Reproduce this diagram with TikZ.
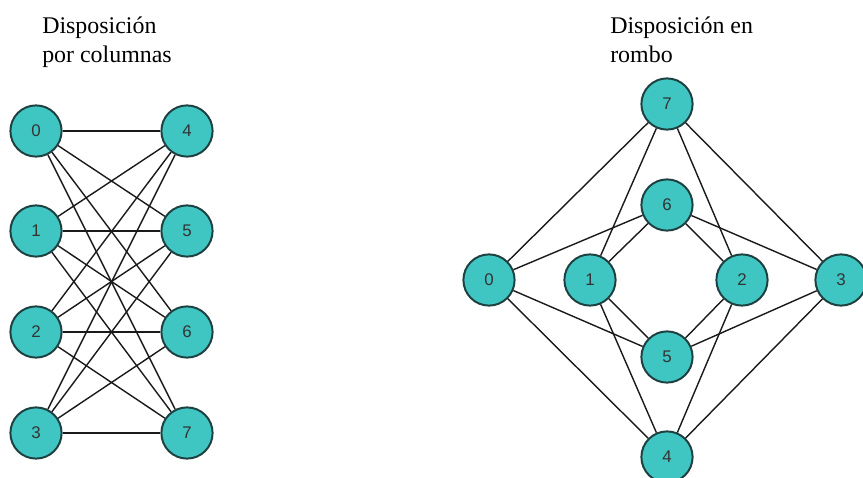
\documentclass[tikz,border=0pt]{standalone}
\usepackage{fontspec}
\setmainfont{Liberation Serif}
\newfontfamily\numfont{Liberation Sans}
\definecolor{nodefill}{HTML}{3FC6C3}
\definecolor{nodeline}{HTML}{1E4040}
\definecolor{edgeline}{HTML}{1A1A1A}

\begin{document}
\begin{tikzpicture}[x=0.025cm,y=-0.025cm]
    \useasboundingbox (0,0) rectangle (863,478);
    \begin{scope}[every node/.style={anchor=base west,align=left,inner sep=0,
        font=\fontsize{17}{21.3}\selectfont}]
        \node (tcol) at (42,63) {Disposición\\por columnas};
        \node (trom) at (610,63) {Disposición en\\rombo};
    \end{scope}
    \begin{scope}[every node/.style={circle,draw=nodeline,line width=1.4pt,
        fill=nodefill,minimum size=1.28cm,inner sep=0,text=black!80,
        font=\numfont\fontsize{12}{14}\selectfont}]
        % por columnas
        \node (c0) at (36,131) {0};
        \node (c1) at (36,231) {1};
        \node (c2) at (36,332) {2};
        \node (c3) at (36,433) {3};
        \node (c4) at (187,131) {4};
        \node (c5) at (187,231) {5};
        \node (c6) at (187,332) {6};
        \node (c7) at (187,433) {7};
        % rombo
        \node (r0) at (489,280) {0};
        \node (r1) at (590,280) {1};
        \node (r2) at (742,280) {2};
        \node (r3) at (841,280) {3};
        \node (r4) at (667,457) {4};
        \node (r5) at (667,357) {5};
        \node (r6) at (667,205) {6};
        \node (r7) at (667,104) {7};
    \end{scope}
    \begin{scope}[every edge/.style={draw=edgeline,line width=1pt}]
        \path [-] (c0) edge (c4);
        \path [-] (c0) edge (c5);
        \path [-] (c0) edge (c6);
        \path [-] (c0) edge (c7);
        \path [-] (c1) edge (c4);
        \path [-] (c1) edge (c5);
        \path [-] (c1) edge (c6);
        \path [-] (c1) edge (c7);
        \path [-] (c2) edge (c4);
        \path [-] (c2) edge (c5);
        \path [-] (c2) edge (c6);
        \path [-] (c2) edge (c7);
        \path [-] (c3) edge (c4);
        \path [-] (c3) edge (c5);
        \path [-] (c3) edge (c6);
        \path [-] (c3) edge (c7);

        \path [-] (r0) edge (r4);
        \path [-] (r0) edge (r5);
        \path [-] (r0) edge (r6);
        \path [-] (r0) edge (r7);
        \path [-] (r1) edge (r4);
        \path [-] (r1) edge (r5);
        \path [-] (r1) edge (r6);
        \path [-] (r1) edge (r7);
        \path [-] (r2) edge (r4);
        \path [-] (r2) edge (r5);
        \path [-] (r2) edge (r6);
        \path [-] (r2) edge (r7);
        \path [-] (r3) edge (r4);
        \path [-] (r3) edge (r5);
        \path [-] (r3) edge (r6);
        \path [-] (r3) edge (r7);
    \end{scope}
\end{tikzpicture}
\end{document}
